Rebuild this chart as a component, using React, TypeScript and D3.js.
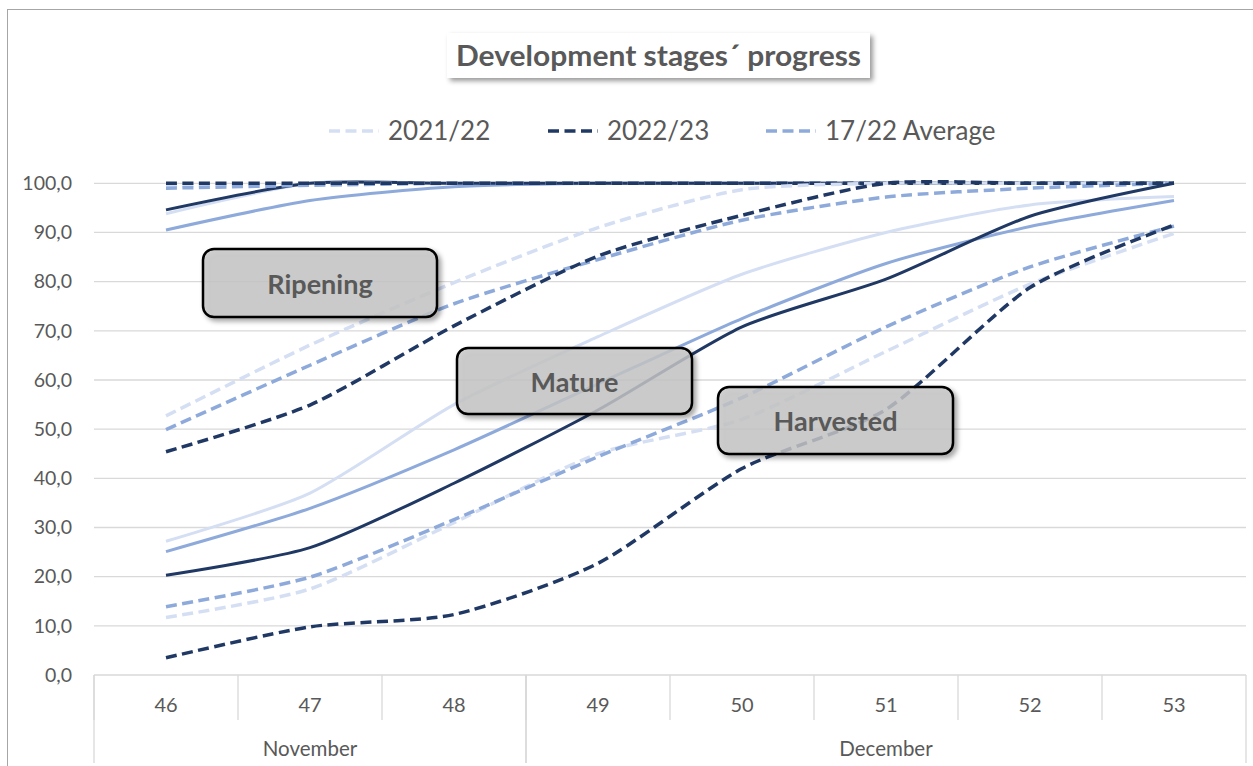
import React from 'react';
import * as d3 from 'd3';

const weeks = ['46', '47', '48', '49', '50', '51', '52', '53'];
const monthNames = ['November', 'December'];
const monthWeekCounts = [3, 5];
const yTicks = [0, 10, 20, 30, 40, 50, 60, 70, 80, 90, 100];
const seasonNames = ['2021/22', '2022/23', '17/22 Average'];
const stageNames = ['Ripening', 'Mature', 'Harvested'];

// early stage (top of chart), dashed
const earlyDashed2122 = [99.4, 100, 100, 100, 100, 100, 100, 100];
const earlyDashed2223 = [100, 100, 100, 100, 100, 100, 100, 100];
const earlyDashedAvg = [99.0, 99.6, 100, 100, 100, 100, 100, 100];
// early stage (top of chart), solid
const earlySolid2122 = [93.8, 100, 100, 100, 100, 100, 100, 100];
const earlySolid2223 = [94.6, 100, 100, 100, 100, 100, 100, 100];
const earlySolidAvg = [90.5, 96.5, 99.3, 100, 100, 100, 100, 100];
// ripening
const ripening2122 = [52.7, 67.1, 79.8, 91.0, 98.7, 100, 100, 100];
const ripening2223 = [45.4, 54.9, 71.0, 85.2, 93.5, 100, 100, 100];
const ripeningAvg = [49.9, 63.0, 75.5, 84.5, 92.5, 97.2, 99.0, 100];
// mature
const mature2122 = [27.2, 37.0, 55.0, 68.8, 81.5, 90.0, 95.6, 97.3];
const mature2223 = [20.3, 25.9, 39.0, 53.9, 70.8, 80.5, 93.3, 100];
const matureAvg = [25.1, 33.9, 45.8, 59.2, 72.5, 83.7, 91.2, 96.5];
// harvested
const harvested2122 = [11.7, 17.5, 31.0, 45.0, 52.0, 65.8, 79.5, 89.8];
const harvested2223 = [3.5, 9.8, 12.3, 22.7, 42.0, 54.0, 78.8, 91.5];
const harvestedAvg = [13.9, 19.9, 31.6, 44.4, 56.4, 70.8, 83.0, 91.3];

const COLORS = ['#d5dff3', '#203864', '#8eaadb'];
const TEXT = '#595959';
const FONT = 'Lato, "Open Sans", sans-serif';

// order: light, avg, dark within each group
const series = [
  { values: earlySolid2122, color: COLORS[0], dashed: false },
  { values: earlySolidAvg, color: COLORS[2], dashed: false },
  { values: earlySolid2223, color: COLORS[1], dashed: false },
  { values: earlyDashed2122, color: COLORS[0], dashed: true },
  { values: earlyDashedAvg, color: COLORS[2], dashed: true },
  { values: earlyDashed2223, color: COLORS[1], dashed: true },
  { values: ripening2122, color: COLORS[0], dashed: true },
  { values: ripeningAvg, color: COLORS[2], dashed: true },
  { values: ripening2223, color: COLORS[1], dashed: true },
  { values: mature2122, color: COLORS[0], dashed: false },
  { values: matureAvg, color: COLORS[2], dashed: false },
  { values: mature2223, color: COLORS[1], dashed: false },
  { values: harvested2122, color: COLORS[0], dashed: true },
  { values: harvestedAvg, color: COLORS[2], dashed: true },
  { values: harvested2223, color: COLORS[1], dashed: true },
];

const W = 1253;
const H = 766;
const plot = { left: 94, right: 1246, top: 183.3, bottom: 675 };

// annotation boxes (layout only)
const boxes = [
  { x: 203, y: 249, w: 234, h: 68 },
  { x: 457, y: 348, w: 235, h: 66 },
  { x: 718, y: 387, w: 235, h: 67 },
];

const legendX = [329, 548, 766];

export default function App() {
  const x = d3.scaleBand().domain(weeks).range([plot.left, plot.right]).padding(0);
  const y = d3.scaleLinear().domain([0, 100]).range([plot.bottom, plot.top]);
  const cx = (w: string) => (x(w) as number) + x.bandwidth() / 2;

  const line = d3
    .line<number>()
    .x((_, i) => cx(weeks[i]))
    .y((d) => y(d))
    .curve(d3.curveCardinal.tension(0.3));

  let start = 0;
  const months = monthNames.map((name, i) => {
    const first = weeks[start];
    const last = weeks[start + monthWeekCounts[i] - 1];
    start += monthWeekCounts[i];
    const x0 = x(first) as number;
    const x1 = (x(last) as number) + x.bandwidth();
    return { name, x0, x1 };
  });

  return (
    <svg
      width={W}
      height={H}
      style={{ position: 'absolute', left: 0, top: 0, background: '#fff' }}
      fontFamily={FONT}
    >
      <defs>
        <filter id="shadow" x="-20%" y="-30%" width="140%" height="170%">
          <feDropShadow dx="3" dy="3" stdDeviation="2.5" floodColor="#000" floodOpacity="0.4" />
        </filter>
      </defs>
      <rect x={7.5} y={9.5} width={1260} height={780} fill="#fff" stroke="#a6a6a6" />

      {/* title */}
      <rect x={447} y={33} width={423} height={45} fill="#fff" filter="url(#shadow)" />
      <text x={658.5} y={65.5} textAnchor="middle" fontSize={29} fontWeight="bold" fill={TEXT}
        textLength={405} lengthAdjust="spacingAndGlyphs">
        Development stages´ progress
      </text>

      {/* legend */}
      {seasonNames.map((s, i) => (
        <g key={s}>
          <line
            x1={legendX[i]}
            x2={legendX[i] + 50}
            y1={131}
            y2={131}
            stroke={COLORS[i]}
            strokeWidth={3.5}
            strokeDasharray="11,5.5"
          />
          <text x={legendX[i] + 59} y={140} fontSize={26} fill={TEXT}>
            {s}
          </text>
        </g>
      ))}

      {/* gridlines */}
      {yTicks.map((t) => (
        <g key={t}>
          <line x1={plot.left} x2={plot.right} y1={y(t)} y2={y(t)} stroke="#d9d9d9" strokeWidth={1.3} />
          <text x={72} y={y(t)} dy="0.35em" textAnchor="end" fontSize={19.5} fill={TEXT}>
            {d3.format('.1f')(t).replace('.', ',')}
          </text>
        </g>
      ))}

      {/* category axis */}
      {weeks.map((w) => (
        <g key={w}>
          <line x1={x(w)} x2={x(w)} y1={plot.bottom} y2={720} stroke="#d9d9d9" strokeWidth={1.3} />
          <text x={cx(w)} y={705} dy="0.36em" textAnchor="middle" fontSize={20} fill={TEXT}>
            {w}
          </text>
        </g>
      ))}
      {months.map((m) => (
        <g key={m.name}>
          <line x1={m.x0} x2={m.x0} y1={plot.bottom} y2={763} stroke="#d9d9d9" strokeWidth={1.3} />
          <line x1={m.x1} x2={m.x1} y1={plot.bottom} y2={763} stroke="#d9d9d9" strokeWidth={1.3} />
          <text x={(m.x0 + m.x1) / 2} y={756} textAnchor="middle" fontSize={20.5} fill={TEXT}>
            {m.name}
          </text>
        </g>
      ))}

      {/* series */}
      {series.map((s, i) => (
        <path
          key={i}
          d={line(s.values) as string}
          fill="none"
          stroke={s.color}
          strokeWidth={s.dashed ? 3.5 : 3}
          strokeDasharray={s.dashed ? '11,5.5' : undefined}
        />
      ))}

      {/* stage labels */}
      {stageNames.map((name, i) => {
        const b = boxes[i];
        return (
          <g key={name}>
            <rect
              x={b.x}
              y={b.y}
              width={b.w}
              height={b.h}
              rx={11}
              fill="rgba(200,200,200,0.8)"
              stroke="#000"
              strokeWidth={2.5}
              filter="url(#shadow)"
            />
            <text
              x={b.x + b.w / 2}
              y={b.y + b.h / 2 + 1}
              dy="0.36em"
              textAnchor="middle"
              fontSize={27}
              fontWeight="bold"
              fill={TEXT}
            >
              {name}
            </text>
          </g>
        );
      })}
    </svg>
  );
}
